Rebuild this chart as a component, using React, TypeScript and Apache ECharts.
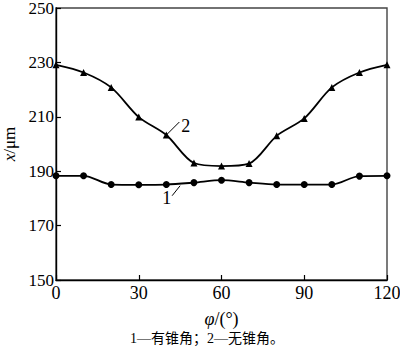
import React, { useEffect, useRef } from "react";
import * as echarts from "echarts";

const angles = [0, 10, 20, 30, 40, 50, 60, 70, 80, 90, 100, 110, 120];
const series1 = [188.3, 188.3, 185.1, 185.0, 185.1, 185.8, 186.7, 185.8, 185.1, 185.1, 185.1, 188.2, 188.3];
const series2 = [229.1, 226.3, 220.8, 209.9, 203.3, 193.0, 191.9, 192.8, 203.0, 209.4, 220.8, 226.3, 229.1];
const xTicks = [0, 30, 60, 90, 120];
const yTicks = [150, 170, 190, 210, 230, 250];
const caption = "1—有锥角；2—无锥角。";

const serif = "Liberation Serif, Times New Roman, Noto Sans CJK SC, serif";

export default function App() {
  const ref = useRef<HTMLDivElement>(null);
  useEffect(() => {
    if (!ref.current) return;
    const chart = echarts.init(ref.current, null, { renderer: "svg" });
    const axisLine = { show: true, lineStyle: { color: "#000", width: 1.4 } };
    chart.setOption({
      animation: false,
      backgroundColor: "#fff",
      textStyle: { fontFamily: serif },
      grid: {
        left: 56, right: 13, top: 8, bottom: 70,
        containLabel: false, outerBoundsMode: "none",
        show: true, borderColor: "#444", borderWidth: 1.4,
      },
      xAxis: {
        type: "value",
        min: xTicks[0],
        max: xTicks[xTicks.length - 1],
        interval: 30,
        axisLine,
        axisTick: { show: true, inside: true, length: 5, lineStyle: { color: "#000", width: 1.2 } },
        splitLine: { show: false },
        axisLabel: { color: "#000", fontFamily: serif, fontSize: 18, margin: 4 },
        name: "{i|φ}/(°)",
        nameLocation: "middle",
        nameGap: 30,
        nameTextStyle: {
          color: "#000", fontFamily: serif, fontSize: 18, lineHeight: 18,
          rich: { i: { fontStyle: "italic", fontFamily: serif, fontSize: 18, lineHeight: 18, color: "#000" } },
        },
      },
      yAxis: {
        type: "value",
        min: yTicks[0],
        max: yTicks[yTicks.length - 1],
        interval: 20,
        axisLine,
        axisTick: { show: true, inside: true, length: 5, lineStyle: { color: "#000", width: 1.2 } },
        splitLine: { show: false },
        axisLabel: { color: "#000", fontFamily: serif, fontSize: 17, margin: 2 },
        name: "{i|x}/μm",
        nameLocation: "middle",
        nameGap: 33,
        nameTextStyle: {
          color: "#000", fontFamily: serif, fontSize: 17, lineHeight: 17,
          rich: { i: { fontStyle: "italic", fontFamily: serif, fontSize: 17, lineHeight: 17, color: "#000" } },
        },
      },
      series: [
        {
          type: "line",
          smooth: 0.3,
          data: angles.map((a, i) => [a, series1[i]]),
          symbol: "circle",
          symbolSize: 7,
          lineStyle: { color: "#000", width: 1.8 },
          itemStyle: { color: "#000" },
        },
        {
          type: "line",
          smooth: 0.3,
          data: angles.map((a, i) => [a, series2[i]]),
          symbol: "triangle",
          symbolSize: 7,
          lineStyle: { color: "#000", width: 1.8 },
          itemStyle: { color: "#000" },
        },
      ],
    });
    const p2 = chart.convertToPixel({ gridIndex: 0 }, [40, series2[4]]) as number[];
    const p1 = chart.convertToPixel({ gridIndex: 0 }, [45, 185.4]) as number[];
    chart.setOption({
      graphic: [
        { type: "line", shape: { x1: p2[0], y1: p2[1], x2: p2[0] + 13, y2: p2[1] - 13 }, style: { stroke: "#000", lineWidth: 1 } },
        { type: "text", x: p2[0] + 15, y: p2[1] - 9, style: { text: "2", font: `18px ${serif}`, fill: "#000", textVerticalAlign: "middle" } },
        { type: "line", shape: { x1: p1[0], y1: p1[1] + 2, x2: p1[0] - 8, y2: p1[1] + 12 }, style: { stroke: "#000", lineWidth: 1 } },
        { type: "text", x: p1[0] - 9, y: p1[1] + 14, style: { text: "1", font: `18px ${serif}`, fill: "#000", textAlign: "right", textVerticalAlign: "middle" } },
        { type: "text", x: 207, y: 338, style: { text: caption, font: `14px ${serif}`, fill: "#000", textAlign: "center", textVerticalAlign: "middle" } },
      ],
    });
    return () => chart.dispose();
  }, []);
  return <div ref={ref} style={{ width: 400, height: 350, position: "absolute", left: 0, top: 0 }} />;
}
